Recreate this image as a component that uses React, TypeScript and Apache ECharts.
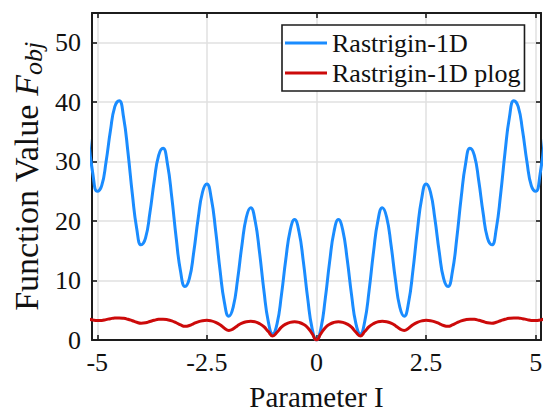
import React, { useEffect, useRef } from "react";
import * as echarts from "echarts";

const xValues = [
  -5.2, -5.1, -5.0, -4.9, -4.8, -4.7, -4.6, -4.5, -4.4, -4.3,
  -4.2, -4.1, -4.0, -3.9, -3.8, -3.7, -3.6, -3.5, -3.4, -3.3,
  -3.2, -3.1, -3.0, -2.9, -2.8, -2.7, -2.6, -2.5, -2.4, -2.3,
  -2.2, -2.1, -2.0, -1.9, -1.8, -1.7, -1.6, -1.5, -1.4, -1.3,
  -1.2, -1.1, -1.0, -0.9, -0.8, -0.7, -0.6, -0.5, -0.4, -0.3,
  -0.2, -0.1, 0.0, 0.1, 0.2, 0.3, 0.4, 0.5, 0.6, 0.7,
  0.8, 0.9, 1.0, 1.1, 1.2, 1.3, 1.4, 1.5, 1.6, 1.7,
  1.8, 1.9, 2.0, 2.1, 2.2, 2.3, 2.4, 2.5, 2.6, 2.7,
  2.8, 2.9, 3.0, 3.1, 3.2, 3.3, 3.4, 3.5, 3.6, 3.7,
  3.8, 3.9, 4.0, 4.1, 4.2, 4.3, 4.4, 4.5, 4.6, 4.7,
  4.8, 4.9, 5.0, 5.1, 5.2,
];

const rastrigin = [
  33.95, 27.92, 25, 25.92, 29.95, 35.18, 39.25, 40.25, 37.45, 31.58,
  24.55, 18.72, 16, 17.12, 21.35, 26.78, 31.05, 32.25, 29.65, 23.98,
  17.15, 11.52, 9, 10.32, 14.75, 20.38, 24.85, 26.25, 23.85, 18.38,
  11.75, 6.32, 4, 5.52, 10.15, 15.98, 20.65, 22.25, 20.05, 14.78,
  8.35, 3.12, 1, 2.72, 7.55, 13.58, 18.45, 20.25, 18.25, 13.18,
  6.95, 1.92, 0, 1.92, 6.95, 13.18, 18.25, 20.25, 18.45, 13.58,
  7.55, 2.72, 1, 3.12, 8.35, 14.78, 20.05, 22.25, 20.65, 15.98,
  10.15, 5.52, 4, 6.32, 11.75, 18.38, 23.85, 26.25, 24.85, 20.38,
  14.75, 10.32, 9, 11.52, 17.15, 23.98, 29.65, 32.25, 31.05, 26.78,
  21.35, 17.12, 16, 18.72, 24.55, 31.58, 37.45, 40.25, 39.25, 35.18,
  29.95, 25.92, 25, 27.92, 33.95,
];

const rastriginPlog = [
  3.55, 3.36, 3.26, 3.29, 3.43, 3.59, 3.7, 3.72, 3.65, 3.48,
  3.24, 2.98, 2.83, 2.9, 3.11, 3.32, 3.47, 3.5, 3.42, 3.22,
  2.9, 2.53, 2.3, 2.43, 2.76, 3.06, 3.25, 3.31, 3.21, 2.96,
  2.55, 1.99, 1.61, 1.87, 2.41, 2.83, 3.08, 3.15, 3.05, 2.76,
  2.24, 1.42, 0.69, 1.31, 2.15, 2.68, 2.97, 3.06, 2.96, 2.65,
  2.07, 1.07, 0, 1.07, 2.07, 2.65, 2.96, 3.06, 2.97, 2.68,
  2.15, 1.31, 0.69, 1.42, 2.24, 2.76, 3.05, 3.15, 3.08, 2.83,
  2.41, 1.87, 1.61, 1.99, 2.55, 2.96, 3.21, 3.31, 3.25, 3.06,
  2.76, 2.43, 2.3, 2.53, 2.9, 3.22, 3.42, 3.5, 3.47, 3.32,
  3.11, 2.9, 2.83, 2.98, 3.24, 3.48, 3.65, 3.72, 3.7, 3.59,
  3.43, 3.29, 3.26, 3.36, 3.55,
];

const xTicks = [-5, -2.5, 0, 2.5, 5];
const yTicks = [0, 10, 20, 30, 40, 50];
const seriesNames = ["Rastrigin-1D", "Rastrigin-1D plog"];
const xTitle = "Parameter I";

const FONT = "Liberation Serif";
const FRAME = "#1c1c1c";
const GRIDC = "#e0e0e0";
const TXT = "#111111";

export default function App() {
  const ref = useRef<HTMLDivElement>(null);
  useEffect(() => {
    if (!ref.current) return;
    const chart = echarts.init(ref.current, null, { renderer: "svg" });
    const pairs = (ys: number[]) => xValues.map((x, i) => [x, ys[i]]);
    const frameLine = { show: true, onZero: false, lineStyle: { color: FRAME, width: 2 } };
    const tick = { show: true, inside: true, length: 5, lineStyle: { color: FRAME, width: 1.6 } };
    const serif = (size: number, extra: any = {}) => ({
      fontFamily: FONT,
      fontSize: size,
      lineHeight: size,
      color: TXT,
      ...extra,
    });
    chart.setOption({
      animation: false,
      backgroundColor: "#ffffff",
      textStyle: { fontFamily: FONT },
      grid: { left: 92, right: 4, top: 13, bottom: 73, containLabel: false },
      legend: {
        orient: "vertical",
        left: 282,
        top: 25,
        data: seriesNames,
        icon: "rect",
        itemWidth: 42,
        itemHeight: 3,
        itemGap: 4,
        itemTextGap: 5,
        padding: [5, 4, 5, 3],
        borderColor: FRAME,
        borderWidth: 1.6,
        backgroundColor: "#ffffff",
        textStyle: { fontFamily: FONT, fontSize: 26, color: TXT },
      },
      xAxis: [
        {
          type: "value",
          min: -5.12,
          max: 5.12,
          position: "bottom",
          axisLine: frameLine,
          axisTick: { ...tick, customValues: xTicks },
          axisLabel: { show: false, customValues: xTicks },
          splitLine: { show: true, lineStyle: { color: GRIDC, width: 1.5 } },
        },
        {
          type: "value",
          min: -5.12,
          max: 5.12,
          position: "top",
          axisLine: frameLine,
          axisTick: { ...tick, customValues: xTicks },
          axisLabel: { show: false },
          splitLine: { show: false },
        },
      ],
      yAxis: [
        {
          type: "value",
          min: 0,
          max: 55,
          interval: 10,
          position: "left",
          axisLine: frameLine,
          axisTick: tick,
          axisLabel: { show: false },
          splitLine: { show: true, lineStyle: { color: GRIDC, width: 1.5 } },
          name: "{a|Function Value }{b|F}{c|obj}",
          nameLocation: "middle",
          nameGap: 46,
          nameTextStyle: {
            fontFamily: FONT,
            color: TXT,
            rich: {
              a: serif(34, { lineHeight: 40 }),
              b: serif(34, { fontStyle: "italic", lineHeight: 40 }),
              c: serif(26, { fontStyle: "italic", lineHeight: 12, verticalAlign: "bottom" }),
            },
          },
        },
        {
          type: "value",
          min: 0,
          max: 55,
          interval: 10,
          position: "right",
          axisLine: frameLine,
          axisTick: tick,
          axisLabel: { show: false },
          splitLine: { show: false },
        },
      ],
      series: [
        {
          name: seriesNames[0],
          type: "line",
          data: pairs(rastrigin),
          smooth: true,
          showSymbol: false,
          clip: true,
          color: "#1a8cff",
          lineStyle: { color: "#1a8cff", width: 3 },
          z: 3,
        },
        {
          name: seriesNames[1],
          type: "line",
          data: pairs(rastriginPlog),
          smooth: true,
          showSymbol: false,
          clip: true,
          color: "#cc0a0a",
          lineStyle: { color: "#cc0a0a", width: 3 },
          z: 4,
        },
      ],
    });

    // Tick labels and x title placed through the library's own scales.
    const axisY = chart.convertToPixel({ yAxisIndex: 0 }, 0) as number;
    const axisX = chart.convertToPixel({ xAxisIndex: 0 }, -5.12) as number;
    const rightX = chart.convertToPixel({ xAxisIndex: 0 }, 5.12) as number;
    const graphics: any[] = [];
    xTicks.forEach((v) => {
      graphics.push({
        type: "text",
        x: chart.convertToPixel({ xAxisIndex: 0 }, v) as number,
        y: axisY + 9,
        silent: true,
        style: {
          text: String(v),
          fontFamily: FONT,
          fontSize: 26,
          fill: TXT,
          textAlign: "center",
          textVerticalAlign: "top",
        },
      });
    });
    yTicks.forEach((v) => {
      graphics.push({
        type: "text",
        x: axisX - 11,
        y: chart.convertToPixel({ yAxisIndex: 0 }, v) as number,
        silent: true,
        style: {
          text: String(v),
          fontFamily: FONT,
          fontSize: 26,
          fill: TXT,
          textAlign: "right",
          textVerticalAlign: "middle",
        },
      });
    });
    graphics.push({
      type: "text",
      x: (axisX + rightX) / 2,
      y: axisY + 42,
      silent: true,
      style: {
        text: xTitle,
        fontFamily: FONT,
        fontSize: 29,
        fill: TXT,
        textAlign: "center",
        textVerticalAlign: "top",
      },
    });
    chart.setOption({ graphic: graphics });

    return () => chart.dispose();
  }, []);
  return (
    <div
      ref={ref}
      style={{ position: "fixed", left: 0, top: 0, width: 545, height: 413, background: "#fff" }}
    />
  );
}
